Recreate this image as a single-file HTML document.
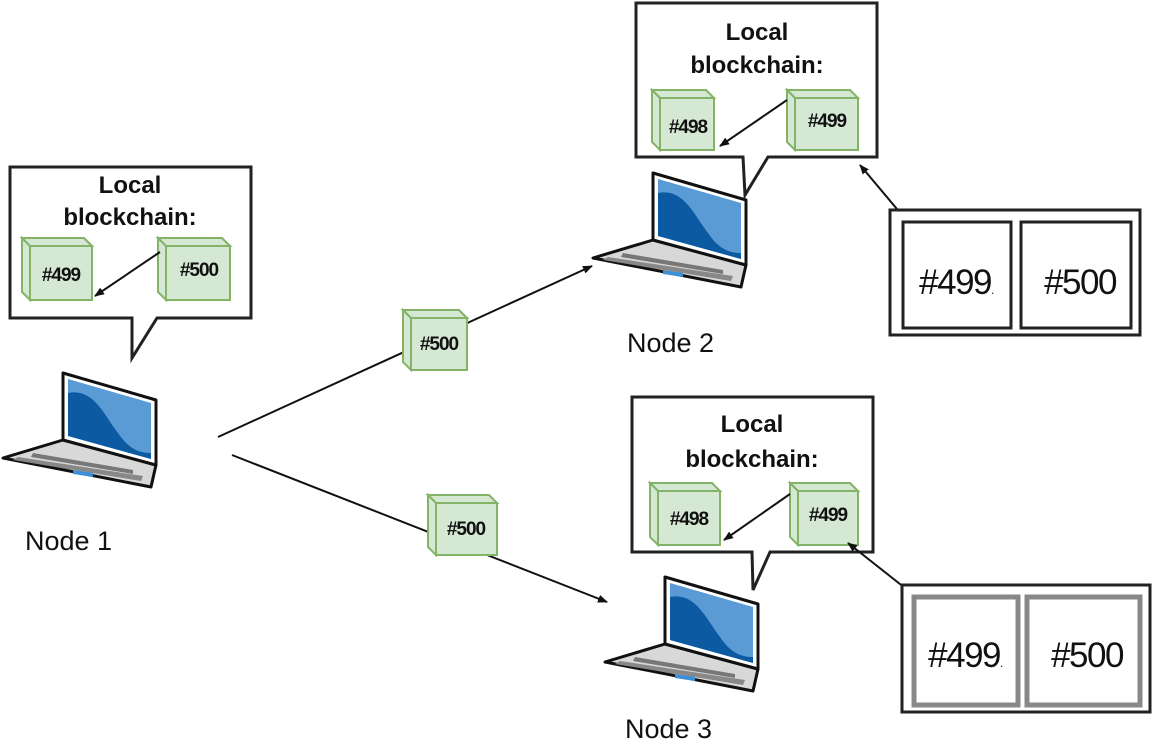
<!DOCTYPE html>
<html><head><meta charset="utf-8"><style>
html,body{margin:0;padding:0;background:#fff;}
svg{display:block;font-family:"Liberation Sans",Arial,sans-serif;}
.b{font-weight:bold;font-size:24px;fill:#111;text-anchor:middle;}
.c{font-weight:bold;font-size:19px;fill:#111;text-anchor:middle;letter-spacing:-1px;}
.n{font-size:27px;fill:#111;}
.big{font-size:35px;fill:#111;text-anchor:middle;letter-spacing:-1.5px;}
</style></head><body>
<svg width="1155" height="746" viewBox="0 0 1155 746">
<defs>
<marker id="ah" markerWidth="10" markerHeight="8" refX="9" refY="4" orient="auto" markerUnits="userSpaceOnUse">
<path d="M0,0 L10,4 L0,8 z" fill="#111"/></marker>
<g id="lap">
<polygon points="0,67 93,92 88,114 -60,85" fill="#d8d8d8" stroke="#111" stroke-width="3" stroke-linejoin="round"/>
<polygon points="-45,84 80,103 78,108 -50,87" fill="#888"/>
<polygon points="-30,80 70,97 70,101 -32,84" fill="#777"/>
<polygon points="10,97 30,100 30,104 10,101" fill="#3a8fd6"/>
<polygon points="0,0 93,27 93,92 0,67" fill="#fff" stroke="#111" stroke-width="3" stroke-linejoin="round"/>
<polygon points="5,6 88,30 88,86 5,63" fill="#5b9bd5"/>
<path d="M5,20 C30,15 40,40 55,60 C65,75 75,80 88,80 L88,86 L5,63 z" fill="#0b5aa2"/>
</g>
</defs>

<path d="M10,167 H251 V318 H157 L132,358 L132,318 H10 Z" fill="#fff" stroke="#222" stroke-width="3"/>
<text class="b" x="130" y="193">Local</text>
<text class="b" x="130" y="225">blockchain:</text>

<path d="M636,3 H877 V157 H768 L745,195 L743,157 H636 Z" fill="#fff" stroke="#222" stroke-width="3"/>
<text class="b" x="757" y="40">Local</text>
<text class="b" x="757" y="73">blockchain:</text>

<path d="M632,397 H873 V552 H770 L753,590 L752,552 H632 Z" fill="#fff" stroke="#222" stroke-width="3"/>
<text class="b" x="752" y="432">Local</text>
<text class="b" x="752" y="467">blockchain:</text>

<g stroke="#82b366" stroke-width="2" fill="#d5e8d4">
<g><polygon points="22,238 84,238 92,246 30,246"/><polygon points="22,238 30,246 30,300 22,292"/><rect x="30" y="246" width="62" height="54"/></g>
<g><polygon points="158,238 222,238 230,246 166,246"/><polygon points="158,238 166,246 166,300 158,292"/><rect x="166" y="246" width="64" height="54"/></g>
<g><polygon points="652,90 706,90 714,98 660,98"/><polygon points="652,90 660,98 660,150 652,142"/><rect x="660" y="98" width="54" height="52"/></g>
<g><polygon points="787,90 850,90 858,98 795,98"/><polygon points="787,90 795,98 795,150 787,142"/><rect x="795" y="98" width="63" height="52"/></g>
<g><polygon points="650,483 712,483 720,491 658,491"/><polygon points="650,483 658,491 658,545 650,537"/><rect x="658" y="491" width="62" height="54"/></g>
<g><polygon points="790,483 850,483 858,491 798,491"/><polygon points="790,483 798,491 798,545 790,537"/><rect x="798" y="491" width="60" height="54"/></g>
</g>

<g stroke="#111" stroke-width="2" fill="none" marker-end="url(#ah)">
<line x1="160" y1="252" x2="95" y2="296"/>
<line x1="787" y1="100" x2="720" y2="146"/>
<line x1="790" y1="494" x2="724" y2="540"/>
<line x1="218" y1="437" x2="592" y2="266"/>
<line x1="232" y1="455" x2="607" y2="602"/>
<line x1="902" y1="215" x2="860" y2="165"/>
<line x1="905" y1="588" x2="848" y2="543"/>
</g>

<g stroke="#82b366" stroke-width="2" fill="#d5e8d4">
<g><polygon points="403,310 459,310 467,318 411,318"/><polygon points="403,310 411,318 411,370 403,362"/><rect x="411" y="318" width="56" height="52"/></g>
<g><polygon points="428,495 489,495 497,503 436,503"/><polygon points="428,495 436,503 436,555 428,547"/><rect x="436" y="503" width="61" height="52"/></g>
</g>

<text class="c" x="61" y="281">#499</text>
<text class="c" x="199" y="276">#500</text>
<text class="c" x="688" y="133">#498</text>
<text class="c" x="827" y="127">#499</text>
<text class="c" x="689" y="525">#498</text>
<text class="c" x="828" y="521">#499</text>
<text class="c" x="439" y="350">#500</text>
<text class="c" x="466" y="535">#500</text>

<use href="#lap" x="63" y="373"/>
<use href="#lap" x="653" y="173"/>
<use href="#lap" x="665" y="577"/>

<text class="n" x="25" y="550">Node 1</text>
<text class="n" x="627" y="352">Node 2</text>
<text class="n" x="625" y="738">Node 3</text>

<rect x="890" y="210" width="250" height="125" fill="#fff" stroke="#222" stroke-width="3"/>
<rect x="903" y="222" width="108" height="106" fill="#fff" stroke="#222" stroke-width="3"/>
<rect x="1021" y="222" width="110" height="106" fill="#fff" stroke="#222" stroke-width="3"/>
<text class="big" x="956" y="294">#499<tspan font-size="12">.</tspan></text>
<text class="big" x="1080" y="294">#500</text>

<rect x="902" y="585" width="248" height="127" fill="#fff" stroke="#222" stroke-width="3"/>
<rect x="914" y="597" width="104" height="108" fill="none" stroke="#888" stroke-width="5"/>
<rect x="1027" y="597" width="113" height="108" fill="none" stroke="#888" stroke-width="5"/>
<text class="big" x="965" y="667">#499<tspan font-size="12">.</tspan></text>
<text class="big" x="1087" y="667">#500</text>
</svg>
</body></html>
